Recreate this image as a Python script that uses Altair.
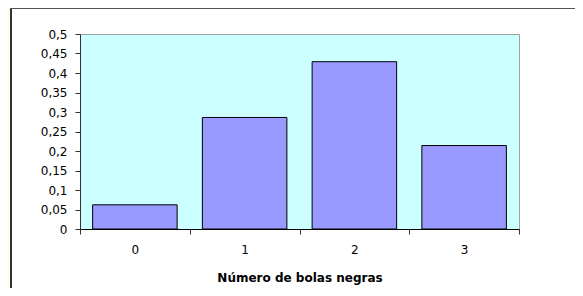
import altair as alt
import pandas as pd

categories = ["0", "1", "2", "3"]
values = [0.062, 0.286, 0.429, 0.214]
y_ticks = [0, 0.05, 0.1, 0.15, 0.2, 0.25, 0.3, 0.35, 0.4, 0.45, 0.5]
x_title = "Número de bolas negras"

df = pd.DataFrame({"k": categories, "p": values})
W, H = 439, 195
FONT = "DejaVu Sans"

bars = alt.Chart(df).mark_bar(
    fill="#9999FF", stroke="black", strokeWidth=1, width=alt.RelativeBandSize(0.77)
).encode(
    x=alt.X("k:N", sort=categories, title=x_title,
            scale=alt.Scale(paddingInner=0, paddingOuter=0),
            axis=alt.Axis(labelAngle=0, tickBand="extent", tickSize=5, tickColor="#333333",
                          domainColor="black", domainWidth=1, labelPadding=10,
                          labelFont=FONT, labelFontSize=12, labelColor="black",
                          titleFont=FONT, titleFontSize=12, titleFontWeight="bold",
                          titleColor="black", titlePadding=17)),
    y=alt.Y("p:Q", title=None,
            scale=alt.Scale(domain=[0, 0.5], nice=False),
            axis=alt.Axis(values=y_ticks, grid=False, tickSize=5, tickColor="#333333",
                          domainColor="#333333", labelPadding=8,
                          labelExpr="replace(toString(datum.value), '.', ',')",
                          labelFont=FONT, labelFontSize=12, labelColor="black")),
)

deco = pd.DataFrame({"d": [0]})
strip = alt.Chart(deco).mark_rect(fill="#FFFFDC").encode(
    x=alt.value(-72), x2=alt.value(-70), y=alt.value(-26), y2=alt.value(H + 67))
left_border = alt.Chart(deco).mark_rule(stroke="#333333", strokeWidth=2).encode(
    x=alt.value(-69), y=alt.value(-27), y2=alt.value(H + 67))
top_border = alt.Chart(deco).mark_rule(stroke="#555555", strokeWidth=1).encode(
    x=alt.value(-70), x2=alt.value(W + 64), y=alt.value(-25.5))

chart = alt.layer(strip, left_border, top_border, bars).properties(
    width=W, height=H,
    autosize=alt.AutoSizeParams(type="none"),
    padding={"left": 72, "top": 26, "right": 56, "bottom": 59},
    background="white",
).configure_view(fill="#CCFFFF", stroke="#A0A0A0", strokeWidth=1)

chart.save("out.html", embed_options={"renderer": "svg", "actions": False})
